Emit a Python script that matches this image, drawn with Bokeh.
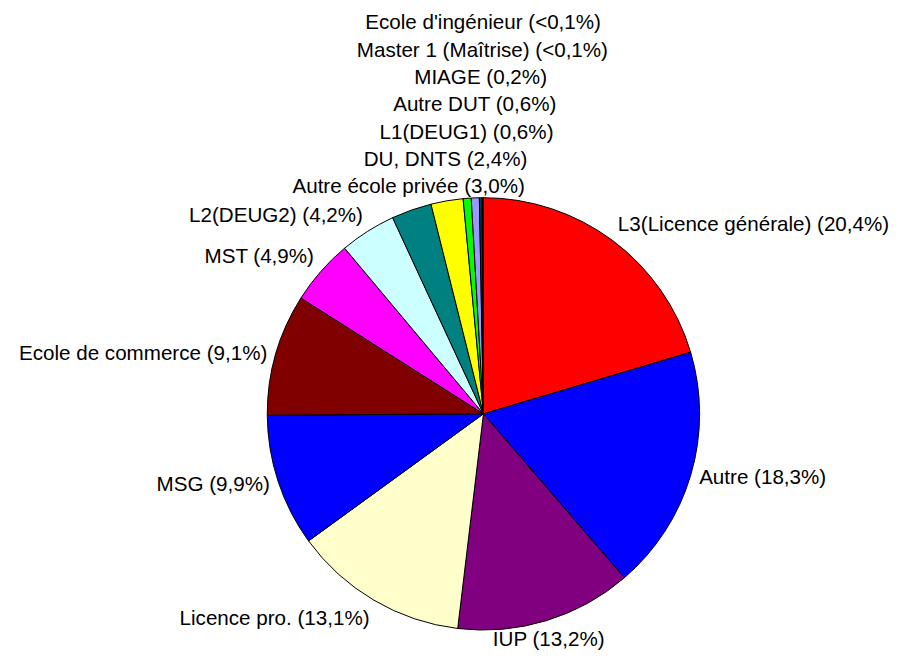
import math
from bokeh.plotting import figure
from bokeh.models import Range1d, ColumnDataSource
from bokeh.core.properties import value
from bokeh.embed import file_html
from bokeh.resources import INLINE

# ---- data ----
categories = ["L3(Licence générale)", "Autre", "IUP", "Licence pro.", "MSG",
              "Ecole de commerce", "MST", "L2(DEUG2)", "Autre école privée",
              "DU, DNTS", "L1(DEUG1)", "Autre DUT", "MIAGE",
              "Master 1 (Maîtrise)", "Ecole d'ingénieur"]
values = [20.4, 18.3, 13.2, 13.1, 9.9, 9.1, 4.9, 4.2, 3.0, 2.4, 0.6, 0.6, 0.2, 0.05, 0.05]
pct_labels = ["20,4%", "18,3%", "13,2%", "13,1%", "9,9%", "9,1%", "4,9%", "4,2%",
              "3,0%", "2,4%", "0,6%", "0,6%", "0,2%", "<0,1%", "<0,1%"]
colors = ["#FF0000", "#0000FF", "#800080", "#FFFFCC", "#0000FF", "#800000",
          "#FF00FF", "#CCFFFF", "#008080", "#FFFF00", "#00FF00", "#9999FF",
          "#004040", "#800000", "#000000"]

# ---- layout (data units = pixels of a 919x668 canvas, origin at pie centre) ----
W, H = 903, 652
CANVAS_W, CANVAS_H = 919, 668
CX, CY = 491.5, 423.5
R = 220.0
FONT = "20.6px"
BOX_H = 23.0       # label box height
LINE_H = 28.0      # spacing of stacked labels
RL = 1.04 * R      # label anchor radius
GAP = 2.0

p = figure(width=W, height=H, output_backend="svg", toolbar_location=None,
           x_range=Range1d(-CX, CANVAS_W - CX), y_range=Range1d(-(CANVAS_H - CY), CY),
           min_border=0, outline_line_color=None)
p.axis.visible = False
p.grid.visible = False
p.background_fill_color = "white"
p.border_fill_color = "white"

total = sum(values)
starts, ends, mids = [], [], []
acc = 0.0
for v in values:
    a0 = acc / total * 2 * math.pi
    acc += v
    a1 = acc / total * 2 * math.pi
    starts.append(math.pi / 2 - a0)
    ends.append(math.pi / 2 - a1)
    mids.append((a0 + a1) / 2)

src = ColumnDataSource(dict(start=starts, end=ends, color=colors))
p.wedge(x=0, y=0, radius=R, start_angle="start", end_angle="end", direction="clock",
        fill_color="color", line_color="black", line_width=1, source=src)

# ---- labels ----
texts = [f"{c} ({pl})" for c, pl in zip(categories, pct_labels)]
lx, ly, align = [], [], []
prev_y = None
stack_from = math.radians(335)
for m in mids:
    s, c = math.sin(m), math.cos(m)
    x, y = RL * s, RL * c
    stacked = m > stack_from
    if stacked:
        a = "center"
    elif s > 0.3:
        a = "left"
    elif s < -0.3:
        a = "right"
    else:
        a = "center"
    # vertical placement: corner/edge of the label box on the anchor
    if c > 0.4:
        yc = y + BOX_H / 2
    elif c < -0.4:
        yc = y - BOX_H / 2
    else:
        yc = y
    if stacked:
        # stacked labels sit above the top of the pie, one line apart
        yc = max(yc, R + BOX_H / 2 + GAP)
        if prev_y is not None and yc < prev_y + LINE_H:
            yc = prev_y + LINE_H
        prev_y = yc
    lx.append(x)
    ly.append(yc)
    align.append(a)

lsrc = ColumnDataSource(dict(x=lx, y=ly, text=texts, align=align))
p.text(x="x", y="y", text="text", text_align="align", text_baseline="middle",
       text_font=value("Liberation Sans"), text_font_size=FONT, text_color="black",
       source=lsrc)

open("out.html", "w").write(file_html(p, INLINE))
